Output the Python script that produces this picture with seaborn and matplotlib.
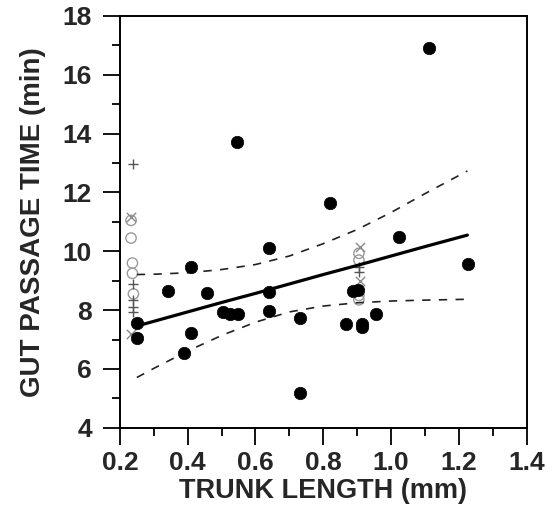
import numpy as np
import pandas as pd
import seaborn as sns
import matplotlib.pyplot as plt
from matplotlib.ticker import MultipleLocator

# filled circles (main data)
trunk = [0.251, 0.251, 0.341, 0.389, 0.409, 0.411, 0.457, 0.503, 0.525, 0.548,
         0.546, 0.639, 0.639, 0.640, 0.731, 0.731, 0.819, 0.867, 0.888, 0.902,
         0.913, 0.913, 0.956, 1.023, 1.112, 1.227]
gut = [7.56, 7.05, 8.66, 6.55, 9.47, 7.22, 8.57, 7.95, 7.86, 7.86,
       13.7, 10.1, 8.63, 7.96, 7.72, 5.19, 11.65, 7.54, 8.65, 8.70,
       7.52, 7.43, 7.88, 10.5, 16.9, 9.58]

# open symbols clustered near the two ends
plus_x = [0.240, 0.240, 0.240, 0.240, 0.240, 0.905, 0.905]
plus_y = [12.95, 8.90, 8.35, 8.10, 7.95, 9.48, 9.30]
cross_x = [0.233, 0.233, 0.907, 0.907]
cross_y = [11.15, 7.20, 10.15, 9.00]
circ_x = [0.233, 0.233, 0.237, 0.237, 0.240, 0.905, 0.905, 0.905, 0.905]
circ_y = [11.05, 10.45, 9.60, 9.25, 8.55, 9.93, 9.70, 8.50, 8.35]

# regression line and confidence band
band_x = [0.25, 0.30, 0.40, 0.50, 0.60, 0.70, 0.80, 0.90, 1.00, 1.10, 1.225]
fit_y = [7.46, 7.62, 7.94, 8.26, 8.57, 8.89, 9.21, 9.52, 9.84, 10.16, 10.55]
upper_y = [9.21, 9.22, 9.27, 9.38, 9.55, 9.84, 10.26, 10.74, 11.32, 11.96, 12.73]
lower_y = [5.71, 6.02, 6.61, 7.14, 7.59, 7.94, 8.14, 8.25, 8.31, 8.34, 8.37]

sns.set_style("ticks")
plt.rcParams['font.family'] = ['Liberation Sans', 'DejaVu Sans']
plt.rcParams['font.weight'] = 'bold'

fig = plt.figure(figsize=(5.55, 5.13), dpi=100)
ax = fig.add_axes([0.216, 0.166, 0.733, 0.803])

lines = pd.DataFrame({'x': band_x, 'fit': fit_y, 'up': upper_y, 'lo': lower_y})
sns.lineplot(data=lines, x='x', y='fit', ax=ax, color='black', lw=2.3)
sns.lineplot(data=lines, x='x', y='up', ax=ax, color='#222222', lw=1.2,
             dashes=False, linestyle=(0, (5, 5)))
sns.lineplot(data=lines, x='x', y='lo', ax=ax, color='#222222', lw=1.2,
             dashes=False, linestyle=(0, (5, 5)))

sns.scatterplot(x=circ_x, y=circ_y, ax=ax, marker='o', s=55, facecolor='none',
                edgecolor='#9a9a9a', linewidth=1.0)
sns.scatterplot(x=cross_x, y=cross_y, ax=ax, marker='x', s=45, color='#8a8a8a',
                linewidth=1.0)
sns.scatterplot(x=plus_x, y=plus_y, ax=ax, marker='+', s=60, color='#555555',
                linewidth=1.0)
sns.scatterplot(x=trunk, y=gut, ax=ax, color='black', s=80, edgecolor='black',
                linewidth=0.5, zorder=5)

ax.set_xlim(0.2, 1.4)
ax.set_ylim(4, 18)
ax.xaxis.set_major_locator(MultipleLocator(0.2))
ax.xaxis.set_minor_locator(MultipleLocator(0.1))
ax.yaxis.set_major_locator(MultipleLocator(2))
ax.yaxis.set_minor_locator(MultipleLocator(1))
ax.set_xticks(np.arange(0.2, 1.41, 0.2))
ax.set_xticklabels(['0.2', '0.4', '0.6', '0.8', '1.0', '1.2', '1.4'])
ax.tick_params(which='major', direction='out', length=12, width=1.3,
               labelsize=19, color='black')
ax.tick_params(axis='y', which='major', pad=8)
ax.tick_params(axis='x', which='major', pad=5)
ax.tick_params(which='minor', direction='out', length=6, width=1.3, color='black')
for lab in ax.get_xticklabels() + ax.get_yticklabels():
    lab.set_fontweight('bold')
for sp in ax.spines.values():
    sp.set_linewidth(1.4)
    sp.set_color('black')

ax.set_xlabel('TRUNK LENGTH (mm)', fontsize=19.5, fontweight='bold', labelpad=2)
ax.set_ylabel('GUT PASSAGE TIME (min)', fontsize=20, fontweight='bold', labelpad=12)

fig.savefig('out.png', dpi=100)
